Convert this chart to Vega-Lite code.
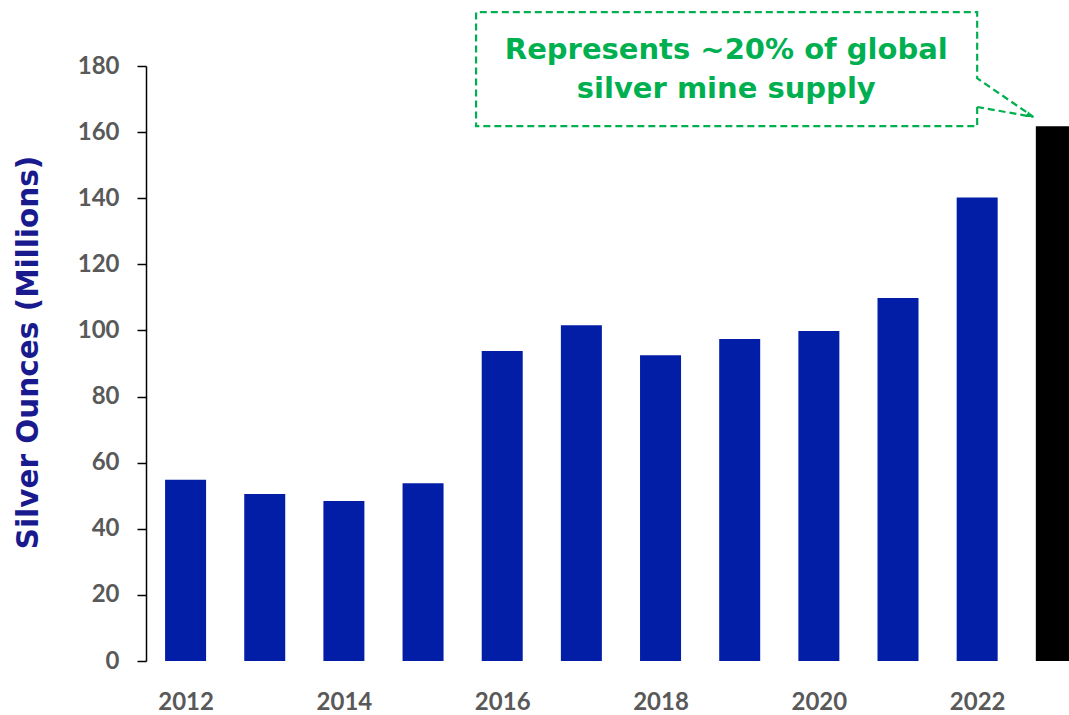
{
  "$schema": "https://vega.github.io/schema/vega-lite/v6.json",
  "width": 923,
  "height": 595,
  "autosize": {"type": "none"},
  "padding": {"left": 146, "top": 66, "right": 0, "bottom": 54},
  "background": "white",
  "config": {"view": {"stroke": null}},
  "datasets": {
    "bars": [
      {"year": 2012, "value": 54.8},
      {"year": 2013, "value": 50.5},
      {"year": 2014, "value": 48.4},
      {"year": 2015, "value": 53.8},
      {"year": 2016, "value": 93.8},
      {"year": 2017, "value": 101.6},
      {"year": 2018, "value": 92.5},
      {"year": 2019, "value": 97.4},
      {"year": 2020, "value": 99.8},
      {"year": 2021, "value": 109.8},
      {"year": 2022, "value": 140.2},
      {"year": 2023, "value": 161.8}
    ],
    "callout": [
      {"ord": 1, "px": 2022.0, "py": 167.6},
      {"ord": 2, "px": 2022.0, "py": 161.8},
      {"ord": 3, "px": 2015.67, "py": 161.8},
      {"ord": 4, "px": 2015.67, "py": 196.3},
      {"ord": 5, "px": 2022.0, "py": 196.3},
      {"ord": 6, "px": 2022.0, "py": 176.3},
      {"ord": 7, "px": 2022.71, "py": 164.6},
      {"ord": 8, "px": 2022.0, "py": 167.6}
    ],
    "tip": [
      {"px": 2022.66, "py": 165.0}
    ],
    "notes": [
      {"tx": 2018.83, "ty": 184.8, "label": "Represents ~20% of global"},
      {"tx": 2018.83, "ty": 173.0, "label": "silver mine supply"}
    ]
  },
  "layer": [
    {
      "data": {"name": "bars"},
      "mark": {"type": "bar", "size": 41, "clip": true},
      "encoding": {
        "x": {
          "field": "year",
          "type": "quantitative",
          "scale": {"domain": [2011.5, 2023.16], "nice": false, "zero": false, "padding": 0},
          "axis": {
            "title": null,
            "values": [2012, 2014, 2016, 2018, 2020, 2022],
            "format": "d",
            "grid": false,
            "domain": false,
            "ticks": false,
            "labelPadding": 29,
            "labelFont": "Lato",
            "labelFontWeight": "bold",
            "labelFontSize": 24,
            "labelColor": "#595959"
          }
        },
        "y": {
          "field": "value",
          "type": "quantitative",
          "scale": {"domain": [0, 180], "nice": false},
          "axis": {
            "title": "Silver Ounces (Millions)",
            "titleFont": "DejaVu Sans",
            "titleFontWeight": "bold",
            "titleFontSize": 29.5,
            "titleColor": "#1a1a8f",
            "titlePadding": 34,
            "titleY": 286,
            "values": [0, 20, 40, 60, 80, 100, 120, 140, 160, 180],
            "grid": false,
            "domainColor": "#000000",
            "domainWidth": 1.5,
            "tickColor": "#000000",
            "tickWidth": 1.5,
            "tickSize": 9,
            "labelPadding": 18,
            "labelFont": "Lato",
            "labelFontWeight": "bold",
            "labelFontSize": 24,
            "labelColor": "#595959"
          }
        },
        "color": {
          "condition": {"test": "datum.year == 2023", "value": "#000000"},
          "value": "#021ea6"
        }
      }
    },
    {
      "data": {"name": "callout"},
      "mark": {"type": "line", "color": "#00b050", "strokeWidth": 2.2, "strokeDash": [7, 4]},
      "encoding": {
        "x": {"field": "px", "type": "quantitative"},
        "y": {"field": "py", "type": "quantitative"},
        "order": {"field": "ord"}
      }
    },
    {
      "data": {"name": "tip"},
      "mark": {"type": "point", "shape": "triangle-right", "filled": true, "color": "#00b050", "size": 45, "angle": 30, "opacity": 1},
      "encoding": {
        "x": {"field": "px", "type": "quantitative"},
        "y": {"field": "py", "type": "quantitative"}
      }
    },
    {
      "data": {"name": "notes"},
      "mark": {"type": "text", "font": "DejaVu Sans", "fontWeight": "bold", "fontSize": 29, "color": "#00b050", "align": "center", "baseline": "middle"},
      "encoding": {
        "x": {"field": "tx", "type": "quantitative"},
        "y": {"field": "ty", "type": "quantitative"},
        "text": {"field": "label"}
      }
    }
  ]
}
